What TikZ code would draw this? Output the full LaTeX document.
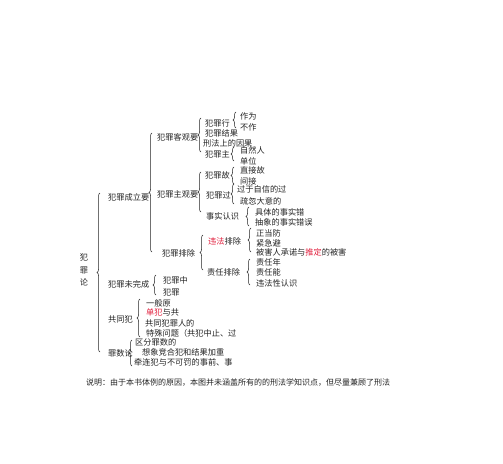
\documentclass[tikz,border=0pt]{standalone}
\usepackage{fontspec}
\setmainfont{Noto Sans CJK SC}
\usetikzlibrary{decorations.pathreplacing}
\definecolor{hl}{RGB}{225,30,60}
\definecolor{ink}{RGB}{35,35,35}
\begin{document}
\begin{tikzpicture}[x=1pt,y=-1pt,
  lbl/.style={anchor=west,inner sep=0pt,font=\fontsize{8.2}{10}\selectfont,text=ink},
  br/.style={decorate,decoration={brace,amplitude=3pt},line width=0.5pt,draw=ink}]
\useasboundingbox (0,0) rectangle (503,463);
% root
\node[inner sep=0pt,align=center,font=\fontsize{8.2}{12.5}\selectfont,text=ink] (root) at (84,270) {犯\\罪\\论};
\draw[br] (100,352) -- (100,193);
% level 1
\node[lbl] (cl) at (108,197) {犯罪成立要};
\node[lbl] (wwc) at (108,284) {犯罪未完成};
\node[lbl] (gtf) at (108,319) {共同犯};
\node[lbl] (zsl) at (108,353) {罪数论};
% 成立要
\draw[br] (152,252) -- (152,133);
\node[lbl] (kg) at (157,137) {犯罪客观要};
\node[lbl] (zg) at (157,194) {犯罪主观要};
\node[lbl] (pc) at (162,253) {犯罪排除};
% 客观要
\draw[br] (201,152) -- (201,118);
\node[lbl] (xw) at (205,123) {犯罪行};
\draw[br] (236,128) -- (236,112);
\node[lbl] (zw) at (240,116) {作为};
\node[lbl] (bz) at (240,127) {不作};
\node[lbl] (jg) at (205,133) {犯罪结果};
\node[lbl] (yg) at (203,143) {刑法上的因果};
\node[lbl] (zt) at (205,154) {犯罪主};
\draw[br] (234,161) -- (234,147);
\node[lbl] (zrr) at (240,150) {自然人};
\node[lbl] (dw) at (240,161) {单位};
% 主观要
\draw[br] (201,212) -- (201,172);
\node[lbl] (gy) at (205,175) {犯罪故};
\draw[br] (234,184) -- (234,167);
\node[lbl] (zjg) at (240,170) {直接故};
\node[lbl] (jj) at (240,181) {间接};
\node[lbl] (gs) at (206,195) {犯罪过};
\draw[br] (234,204) -- (234,184);
\node[lbl] (gyzx) at (237,189) {过于自信的过};
\node[lbl] (shdy) at (240,201) {疏忽大意的};
\node[lbl] (sszs) at (206,216) {事实认识};
\draw[br] (249,226) -- (249,207);
\node[lbl] (jt) at (255,212) {具体的事实错};
\node[lbl] (cx) at (255,222) {抽象的事实错误};
% 排除
\draw[br] (203,270) -- (203,235);
\node[lbl] (wfpc) at (208,241) {\textcolor{hl}{违法}排除};
\draw[br] (251,252) -- (251,228);
\node[lbl] (zdf) at (256,233) {正当防};
\node[lbl] (jjb) at (256,243) {紧急避};
\node[lbl] (bhr) at (256,252) {被害人承诺与\textcolor{hl}{推定}的被害};
\node[lbl] (zrpc) at (207,272) {责任排除};
\draw[br] (250,285) -- (250,259);
\node[lbl] (zrn) at (256,262) {责任年};
\node[lbl] (zrnl) at (256,272) {责任能};
\node[lbl] (wfx) at (256,283) {违法性认识};
% 未完成
\draw[br] (156,295) -- (156,275);
\node[lbl] (fzz) at (163,280) {犯罪中};
\node[lbl] (fz) at (163,292) {犯罪};
% 共同犯
\draw[br] (140,337) -- (140,299);
\node[lbl] (ybyl) at (146,303) {一般原};
\node[lbl] (df) at (146,312) {\textcolor{hl}{单犯}与共};
\node[lbl] (gtfr) at (145,323) {共同犯罪人的};
\node[lbl] (tsw) at (146,333) {特殊问题（共犯中止、过};
% 罪数论
\draw[br] (132,366) -- (132,340);
\node[lbl] (qf) at (135,342) {区分罪数的};
\node[lbl] (xx) at (142,352) {想象竞合犯和结果加重};
\node[lbl] (ql) at (134,362) {牵连犯与不可罚的事前、事};
% footer
\node[lbl,font=\fontsize{8}{10}\selectfont] (note) at (86,383) {说明：由于本书体例的原因，本图并未涵盖所有的的刑法学知识点，但尽量兼顾了刑法};
\end{tikzpicture}
\end{document}
